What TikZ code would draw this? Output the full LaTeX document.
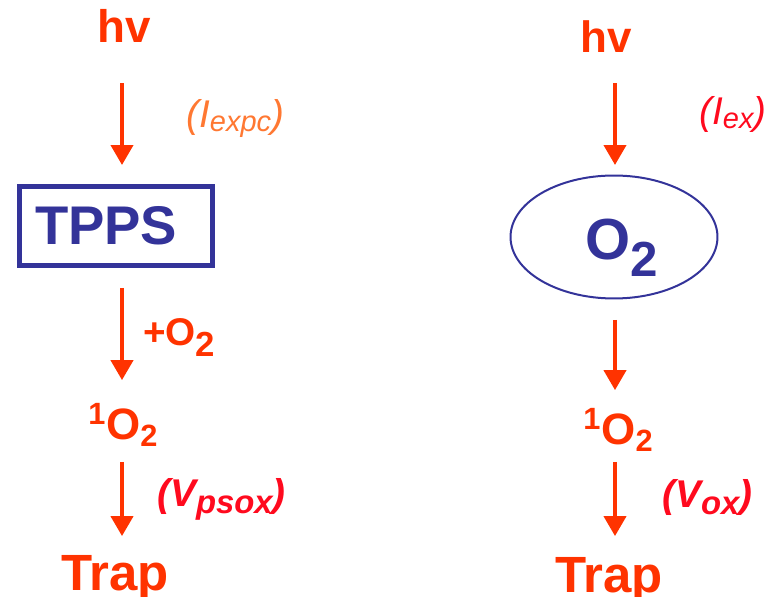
\documentclass[tikz,border=0pt]{standalone}
\usepackage{fontspec}
\setmainfont{Liberation Sans}
\usetikzlibrary{shapes.geometric, arrows.meta, positioning, calc}

\definecolor{hvred}{RGB}{255,51,0}
\definecolor{rateorange}{RGB}{255,120,50}
\definecolor{ratered}{RGB}{255,10,30}
\definecolor{boxblue}{RGB}{51,51,153}

% lowered, scaled subscript: [scale]{drop}{text}
\newcommand{\lowsub}[3][0.85]{\raisebox{-#2}{\scalebox{#1}{#3}}}

\begin{document}
\begin{tikzpicture}[
    x=0.02cm, y=-0.02cm,
    lbl/.style={inner sep=0pt, anchor=base west, text=hvred, font=\fontsize{26}{30}\selectfont\bfseries},
    side/.style={lbl, font=\fontsize{22}{26}\selectfont\bfseries},
    rate/.style={inner sep=0pt, anchor=base west, font=\fontsize{22}{26}\selectfont\itshape},
    trap/.style={lbl, font=\fontsize{29}{33}\selectfont\bfseries},
    sens/.style={draw=boxblue, line width=0.1cm, text=boxblue, minimum width=3.88cm, minimum height=1.6cm, inner xsep=0.32cm, text width=3.24cm, align=left, font=\fontsize{31}{35}\selectfont\bfseries},
    gas/.style={ellipse, draw=boxblue, line width=0.04cm, text=boxblue, minimum width=4.14cm, minimum height=2.46cm, inner sep=0pt, text height=0.9cm, text depth=0cm, font=\fontsize{33}{37}\selectfont\bfseries},
    arrow/.style={-{Triangle[length=0.4cm, width=0.44cm]}, line width=0.08cm, draw=hvred}
  ]
    \useasboundingbox (0,0) rectangle (764,597);
    \coordinate (colL) at (122,0);
    \coordinate (colR) at (615,0);

    % TPPS route (left)
    \node[lbl] (hvL) at (97,43) {hv};
    \node[rate, text=rateorange] (iexpc) at (186,128) {(I\lowsub[0.75]{0.1em}{expc})};
    \node[sens] (tpps) at (116,226) {TPPS};
    \node[side] (plus) at (143,346) {+O\lowsub[0.9]{0.27em}{2}};
    \node[lbl, font=\fontsize{25}{29}\selectfont\bfseries] (soL) at (88,440) {\textsuperscript{1}O\textsubscript{2}};
    \node[rate, text=ratered, font=\fontsize{22}{26}\selectfont\bfseries\itshape] (vpsox) at (157,507) {(V\lowsub{0.16em}{psox})};
    \node[trap] (trapL) at (61,590) {Trap};

    % direct route (right)
    \node[lbl, font=\fontsize{25}{29}\selectfont\bfseries] (hvR) at (580,53) {hv};
    \node[rate, text=ratered] (iex) at (699,125) {(I\lowsub[0.75]{0.1em}{ex})};
    \node[gas] (oxy) at (614,237) {\hspace*{0.3cm}O\lowsub{0.29em}{2}};
    \node[lbl, font=\fontsize{25}{29}\selectfont\bfseries] (soR) at (583,445) {\textsuperscript{1}O\textsubscript{2}};
    \node[rate, text=ratered, font=\fontsize{22}{26}\selectfont\bfseries\itshape] (vox) at (662,508) {(V\lowsub{0.16em}{ox})};
    \node[trap] (trapR) at (555,592) {Trap};

    \draw[arrow, shorten <=0.8cm, shorten >=0.37cm] (hvL.south -| colL) -- (tpps.north -| colL);
    \draw[arrow, shorten <=0.39cm, shorten >=0.45cm] (tpps.south -| colL) -- (soL.north -| colL);
    \draw[arrow, shorten <=0.3cm, shorten >=0.37cm] (soL.south -| colL) -- (trapL.north -| colL);

    \draw[arrow, shorten <=0.6cm, shorten >=0.19cm] (hvR.south -| colR) -- (oxy.north -| colR);
    \draw[arrow, shorten <=0.41cm, shorten >=0.35cm] (oxy.south -| colR) -- (soR.north -| colR);
    \draw[arrow, shorten <=0.2cm, shorten >=0.41cm] (soR.south -| colR) -- (trapR.north -| colR);
  \end{tikzpicture}
\end{document}
